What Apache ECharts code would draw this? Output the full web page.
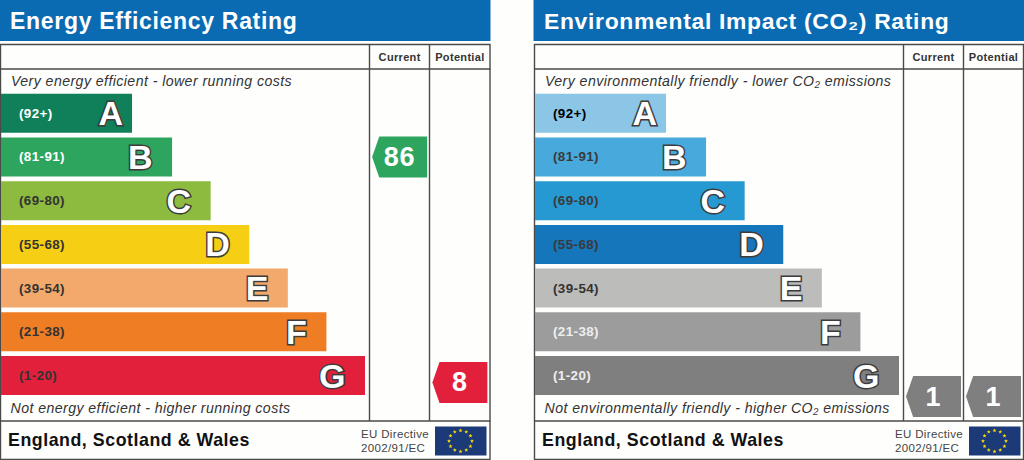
<!DOCTYPE html>
<html><head><meta charset="utf-8">
<script src="https://cdn.jsdelivr.net/npm/echarts@6/dist/echarts.min.js"></script>
<style>
html,body{margin:0;padding:0;background:#fefefd}
#c{width:1024px;height:460px}
svg text{letter-spacing:.03em}
</style></head><body><div id="c"></div>
<script>
const bands = ['A','B','C','D','E','F','G'];
const ranges = ['(92+)','(81-91)','(69-80)','(55-68)','(39-54)','(21-38)','(1-20)'];
const barLengths = [36, 47, 57.6, 68.2, 78.8, 89.4, 100];
const columns = ['Current','Potential'];

const energyTitle = 'Energy Efficiency Rating';
const energyTop = 'Very energy efficient - lower running costs';
const energyBottom = 'Not energy efficient - higher running costs';
const energyColors = ['#0f8059','#2ea55f','#8dbb3f','#f6cf14','#f4a96c','#ee7d24','#e3203b'];
const energyRangeText = ['#ffffff','#ffffff','#333333','#333333','#333333','#333333','#333333'];
const energyRatings = [86, 8];
const energyMarkerColors = ['#2ea55f','#e3203b'];

const co2Title = 'Environmental Impact (CO₂) Rating';
const co2Top = 'Very environmentally friendly - lower CO₂ emissions';
const co2Bottom = 'Not environmentally friendly - higher CO₂ emissions';
const co2Colors = ['#8bc6e7','#47a9dc','#2698d2','#1676bc','#bcbcba','#9c9c9c','#7f7f7f'];
const co2RangeText = ['#000000','#3a3a3a','#3a3a3a','#3a3a3a','#333333','#eeeeee','#eeeeee'];
const co2Ratings = [1, 1];
const co2MarkerColors = ['#7f7f7f','#7f7f7f'];

const footer = 'England, Scotland & Wales';
const directive = ['EU Directive','2002/91/EC'];

const FONT = '"Liberation Sans", Arial, sans-serif';
const MARKER = 'path://M0 50 L13 0 L100 0 L100 100 L13 100 Z';
const LINE = '#4a4a4a';

const opt = {animation:false, backgroundColor:'#fefefd', grid:[], xAxis:[], yAxis:[], series:[], graphic:[]};

function panel(ox, right, title, titleSize, top, bottom, colors, rangeText, ratings, markerColors, yMin, yMax){
  const g = opt.graphic;
  const n = opt.grid.length;
  const c1 = ox + 369.5, c2 = ox + 429.5;
  g.push({type:'rect',z:0,shape:{x:ox-0.5,y:0,width:right-ox+0.5,height:41},style:{fill:'#0a6bb3'}});
  g.push({type:'text',z:5,style:{x:ox+10,y:20.5,text:title,fill:'#fff',font:'bold '+titleSize+'px '+FONT,textVerticalAlign:'middle'}});
  g.push({type:'rect',z:1,shape:{x:ox+0.5,y:44.5,width:right-ox-1,height:415},style:{fill:'none',stroke:LINE,lineWidth:1.4}});
  [[ox,69,right,69],[ox,421,right,421],[c1,44,c1,421],[c2,44,c2,421]].forEach(l=>
    g.push({type:'line',z:1,shape:{x1:l[0],y1:l[1],x2:l[2],y2:l[3]},style:{stroke:LINE,lineWidth:1.4}}));
  g.push({type:'text',z:5,style:{x:ox+11,y:81,text:top,fill:'#333',font:'italic 14.15px '+FONT,textVerticalAlign:'middle'}});
  g.push({type:'text',z:5,style:{x:ox+10.5,y:408,text:bottom,fill:'#333',font:'italic 14.15px '+FONT,textVerticalAlign:'middle'}});
  g.push({type:'text',z:5,style:{x:ox+8,y:439.5,text:footer,fill:'#111',font:'bold 17.8px '+FONT,textVerticalAlign:'middle'}});
  directive.forEach((t,i)=>g.push({type:'text',z:5,style:{x:ox+361,y:433.5+i*14.5,text:t,fill:'#444',font:'11.5px '+FONT,textVerticalAlign:'middle'}}));
  g.push({type:'rect',z:5,shape:{x:ox+435,y:426.5,width:51.5,height:29},style:{fill:'#1d3a78'}});
  const cx = ox+460.5, cy = 441;
  for(let i=0;i<12;i++){
    const a=i*Math.PI/6, sx=cx+11.5*Math.sin(a), sy=cy-10.5*Math.cos(a), pts=[];
    for(let k=0;k<10;k++){const r=k%2?0.9:2.1,b=k*Math.PI/5;pts.push([sx+r*Math.sin(b),sy-r*Math.cos(b)]);}
    g.push({type:'polygon',z:6,shape:{points:pts},style:{fill:'#f5d90f'}});
  }
  // bars
  opt.grid.push({left:ox+1,top:91.4,width:364,height:306});
  opt.xAxis.push({type:'value',gridIndex:n,min:0,max:100,show:false});
  opt.yAxis.push({type:'category',gridIndex:n,inverse:true,data:ranges,z:10,
    axisLine:{show:false},axisTick:{show:false},splitLine:{show:false},
    axisLabel:{inside:true,margin:18,fontFamily:FONT,fontWeight:'bold',fontSize:13.4,
      color:(v)=>rangeText[ranges.indexOf(v)]}});
  const letterLabel = {show:true,position:'insideRight',fontFamily:FONT,fontWeight:'bold',fontSize:34,color:'#fff',
      textBorderColor:'#3c3c3c',textBorderWidth:3};
  opt.series.push({type:'bar',xAxisIndex:n,yAxisIndex:n,barWidth:39,silent:true,
    data:barLengths.map((v,i)=>({value:v,itemStyle:{color:colors[i]},
      label:Object.assign({},letterLabel,{distance:i===0?8:18.5,formatter:bands[i]})})),
    label:letterLabel});
  // rating markers
  opt.grid.push({left:c1,top:69,width:right-c1-0.5,height:352});
  opt.xAxis.push({type:'category',gridIndex:n+1,position:'top',data:columns,
    axisLine:{show:false},axisTick:{show:false},splitLine:{show:false},
    axisLabel:{show:true,margin:7,interval:0,fontFamily:FONT,fontWeight:'bold',fontSize:11,color:'#333'}});
  opt.yAxis.push({type:'value',gridIndex:n+1,min:yMin,max:yMax,show:false});
  opt.series.push({type:'scatter',xAxisIndex:n+1,yAxisIndex:n+1,symbol:MARKER,symbolSize:[55,41],silent:true,z:4,
    data:ratings.map((r,i)=>({value:[i,r],itemStyle:{color:markerColors[i],opacity:1},
      label:{formatter:String(r)}})),
    label:{show:true,position:'inside',fontFamily:FONT,fontWeight:'bold',fontSize:27,color:'#fff'}});
}
panel(0,490.5,energyTitle,23,energyTop,energyBottom,energyColors,energyRangeText,energyRatings,energyMarkerColors,-5.33,116.4);
panel(534,1024,co2Title,22.9,co2Top,co2Bottom,co2Colors,co2RangeText,co2Ratings,co2MarkerColors,-7.47,114.3);
const chart = echarts.init(document.getElementById('c'),null,{renderer:'svg'});
chart.setOption(opt);
</script></body></html>
